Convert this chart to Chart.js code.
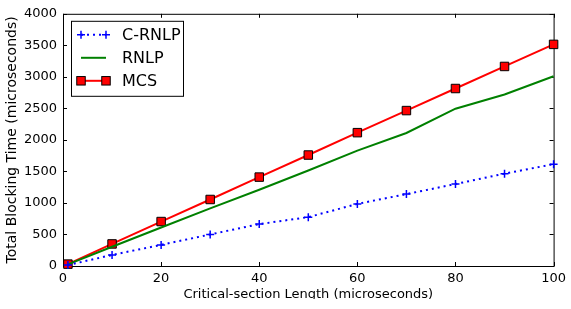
<!DOCTYPE html>
<html lang="en">
  <head>
    <meta charset="utf-8" />
    <title>Blocking time</title>
    <style>
      html, body { margin: 0; padding: 0; background: #fff; }
      #wrap { width: 571px; height: 299px; overflow: hidden; }
    </style>
  </head>
  <body>
    <div id="wrap">
      <canvas id="myChart" width="571" height="309"></canvas>
    </div>
    <script src="https://cdn.jsdelivr.net/npm/chart.js"></script>
    <script>
      const lengths = [1, 10, 20, 30, 40, 50, 60, 70, 80, 90, 100];
      const cRnlp = [15, 175, 335, 500, 665, 775, 985, 1140, 1300, 1465, 1615];
      const rnlp = [25, 305, 610, 915, 1210, 1515, 1830, 2110, 2495, 2720, 3010];
      const mcs = [30, 350, 705, 1055, 1410, 1760, 2115, 2465, 2815, 3165, 3515];

      const xTicks = [0, 20, 40, 60, 80, 100];
      const yTicks = [0, 500, 1000, 1500, 2000, 2500, 3000, 3500, 4000];

      const FONT = 'DejaVu Sans';

      function pts(ys) {
        return lengths.map((x, i) => ({ x: x, y: ys[i] }));
      }

      // matplotlib style frame with inward ticks on all sides
      const frame = {
        id: 'frame',
        beforeDatasetsDraw(chart) {
          const ctx = chart.ctx, a = chart.chartArea;
          const xs = chart.scales.x, ys = chart.scales.y;
          ctx.save();
          ctx.strokeStyle = '#000';
          ctx.lineWidth = 1;
          ctx.strokeRect(a.left + 0.5, a.top + 0.5, a.right - a.left, a.bottom - a.top);
          ctx.beginPath();
          xTicks.forEach((v) => {
            const px = Math.round(xs.getPixelForValue(v)) + 0.5;
            ctx.moveTo(px, a.bottom); ctx.lineTo(px, a.bottom - 4);
            ctx.moveTo(px, a.top); ctx.lineTo(px, a.top + 4);
          });
          yTicks.forEach((v) => {
            const py = Math.round(ys.getPixelForValue(v)) + 0.5;
            ctx.moveTo(a.left, py); ctx.lineTo(a.left + 4, py);
            ctx.moveTo(a.right, py); ctx.lineTo(a.right - 4, py);
          });
          ctx.stroke();
          ctx.restore();
        },
      };

      function marker(ctx, ds, x, y) {
        if (!ds.pointRadius) return;
        ctx.setLineDash([]);
        if (ds.pointStyle === 'rect') {
          const s = Math.SQRT1_2 * ds.pointRadius;
          ctx.fillStyle = ds.pointBackgroundColor;
          ctx.strokeStyle = ds.pointBorderColor;
          ctx.lineWidth = ds.pointBorderWidth;
          ctx.fillRect(x - s, y - s, 2 * s, 2 * s);
          ctx.strokeRect(x - s, y - s, 2 * s, 2 * s);
        } else {
          const r = ds.pointRadius;
          ctx.strokeStyle = ds.pointBorderColor;
          ctx.lineWidth = ds.pointBorderWidth;
          ctx.beginPath();
          ctx.moveTo(x - r, y); ctx.lineTo(x + r, y);
          ctx.moveTo(x, y - r); ctx.lineTo(x, y + r);
          ctx.stroke();
        }
      }

      // legend box inside the plot, upper left
      const legendBox = {
        id: 'legendBox',
        afterDatasetsDraw(chart) {
          const ctx = chart.ctx, a = chart.chartArea;
          const x0 = a.left + 8, y0 = a.top + 7, w = 112, h = 75;
          ctx.save();
          ctx.fillStyle = '#fff';
          ctx.fillRect(x0, y0, w, h);
          ctx.strokeStyle = '#000';
          ctx.lineWidth = 1;
          ctx.strokeRect(x0 + 0.5, y0 + 0.5, w, h);
          ctx.font = '16px ' + FONT;
          ctx.textBaseline = 'middle';
          chart.data.datasets.forEach((ds, i) => {
            const y = y0 + 14 + i * 23;
            const l = x0 + 10, r = x0 + 35;
            ctx.strokeStyle = ds.borderColor;
            ctx.lineWidth = ds.borderWidth;
            ctx.setLineDash(ds.borderDash || []);
            ctx.beginPath();
            ctx.moveTo(l, y); ctx.lineTo(r, y);
            ctx.stroke();
            marker(ctx, ds, l, y);
            marker(ctx, ds, r, y);
            ctx.fillStyle = '#000';
            ctx.fillText(ds.label, x0 + 51, y + 1);
          });
          ctx.restore();
        },
      };

      const data = {
        datasets: [
          {
            label: 'C-RNLP',
            data: pts(cRnlp),
            borderColor: '#0000ff',
            borderWidth: 2,
            borderDash: [2, 4],
            pointStyle: 'cross',
            pointRadius: 4,
            pointBorderColor: '#0000ff',
            pointBorderWidth: 1.5,
            pointBackgroundColor: '#0000ff',
          },
          {
            label: 'RNLP',
            data: pts(rnlp),
            borderColor: '#008000',
            borderWidth: 2,
            pointRadius: 0,
          },
          {
            label: 'MCS',
            data: pts(mcs),
            borderColor: '#ff0000',
            borderWidth: 2,
            pointStyle: 'rect',
            pointRadius: 6,
            pointBackgroundColor: '#ff0000',
            pointBorderColor: '#000',
            pointBorderWidth: 1,
          },
        ],
      };

      const config = {
        type: 'line',
        data: data,
        plugins: [frame, legendBox],
        options: {
          responsive: false,
          animation: false,
          events: [],
          clip: false,
          layout: { padding: { top: 12, right: 13, left: 0, bottom: 0 } },
          elements: { line: { tension: 0, fill: false } },
          plugins: { legend: { display: false }, tooltip: { enabled: false } },
          scales: {
            x: {
              type: 'linear',
              min: 0,
              max: 100,
              afterFit(s) { s.height = 43; },
              afterBuildTicks(s) { s.ticks = xTicks.map((v) => ({ value: v })); },
              grid: { display: false, drawTicks: false },
              border: { display: false },
              ticks: {
                padding: 5,
                color: '#000',
                font: { family: FONT, size: 13 },
                maxRotation: 0,
                callback: (v) => String(v),
              },
              title: {
                display: true,
                text: 'Critical-section Length (microseconds)',
                color: '#000',
                font: { family: FONT, size: 13 },
                padding: { top: 0, bottom: 7 },
              },
            },
            y: {
              min: 0,
              max: 4000,
              afterFit(s) { s.width = 63; },
              afterBuildTicks(s) { s.ticks = yTicks.map((v) => ({ value: v })); },
              grid: { display: false, drawTicks: false },
              border: { display: false },
              ticks: {
                padding: 6,
                color: '#000',
                font: { family: FONT, size: 13 },
                callback: (v) => String(v),
              },
              title: {
                display: true,
                text: 'Total Blocking Time (microseconds)',
                color: '#000',
                font: { family: FONT, size: 14 },
                padding: { top: 4, bottom: 0 },
              },
            },
          },
        },
      };

      var myChart = new Chart(document.getElementById('myChart'), config);
    </script>
  </body>
</html>
